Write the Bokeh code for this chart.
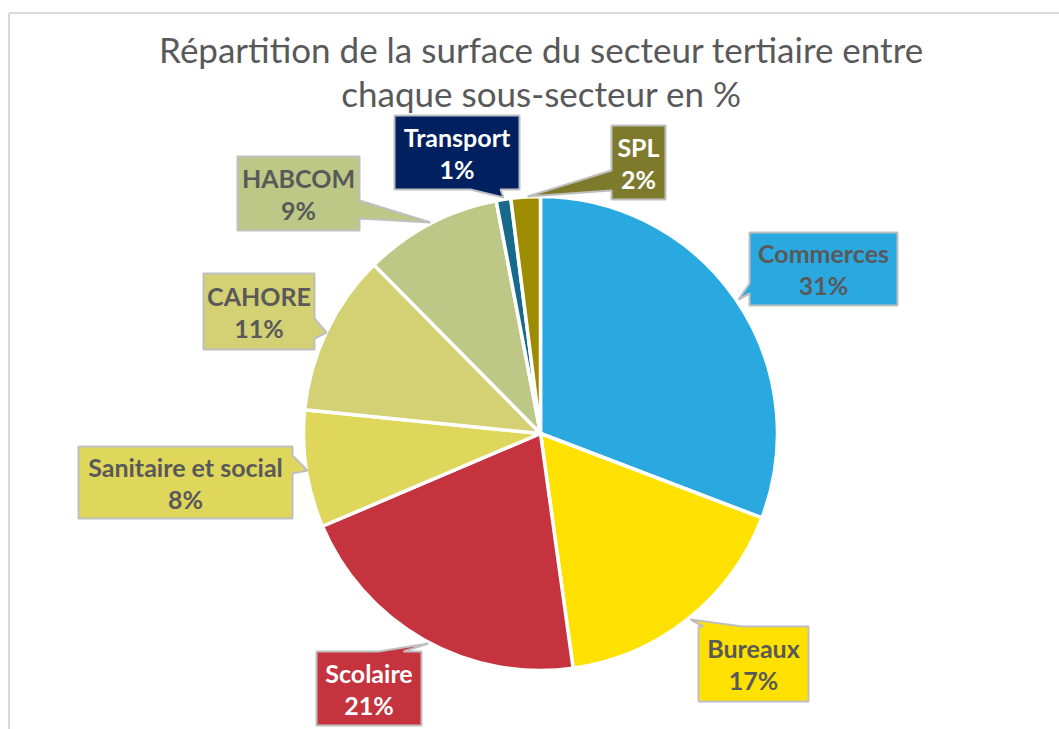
import numpy as np
from bokeh.plotting import figure
from bokeh.models import Range1d
from bokeh.core.properties import value
from bokeh.embed import file_html
from bokeh.resources import INLINE

# ---------------- data ----------------
categories = ["Commerces", "Bureaux", "Scolaire", "Sanitaire et social",
              "CAHORE", "HABCOM", "Transport", "SPL"]
shares = [30.8, 17.0, 20.8, 8.0, 11.0, 9.4, 1.0, 2.0]
title_lines = ["Répartition de la surface du secteur tertiaire entre",
               "chaque sous-secteur en %"]

# ---------------- styles ----------------
slice_colors = ["#29A9E0", "#FFE100", "#C4333E", "#DFD65C",
                "#D3D173", "#BDC887", "#186A8C", "#9D8B00"]
box_colors = ["#29A9E0", "#FFE100", "#C4333E", "#DFD65C",
              "#D3D173", "#BDC887", "#002060", "#7E7A2B"]
text_colors = ["#595959", "#595959", "#FFFFFF", "#595959",
               "#595959", "#595959", "#FFFFFF", "#FFFFFF"]
FONT = "Lato"

W, H = 1059, 729

def X(px):
    return px

def Y(py):
    return H - py

# callout layout in page pixels: box (L, T, R, B), pointer side, base (a, b), tip (x, y)
callouts = [
    dict(box=(749, 232, 897, 305), side="left", base=(283, 293), tip=(738, 299)),
    dict(box=(698, 626, 808, 701), side="top", base=(703, 742), tip=(690, 619)),
    dict(box=(316, 651, 421, 725), side="top", base=(378, 403), tip=(428, 643)),
    dict(box=(78, 446, 292, 518), side="right", base=(455, 473), tip=(307, 470)),
    dict(box=(203, 273, 314, 349), side="right", base=(318, 338), tip=(326, 332)),
    dict(box=(237, 156, 359, 230), side="right", base=(200, 218), tip=(430, 222)),
    dict(box=(394, 115, 519, 189), side="bottom", base=(470, 500), tip=(503, 197)),
    dict(box=(611, 125, 665, 199), side="left", base=(170, 190), tip=(527, 196)),
]

CX, CY, R = 540, 433, 237

p = figure(width=W, height=H, output_backend="svg", toolbar_location=None,
           x_range=Range1d(0, W), y_range=Range1d(0, H),
           x_axis_location=None, y_axis_location=None, min_border=0,
           outline_line_color=None, background_fill_color="white",
           border_fill_color="white")
p.grid.visible = False

# chart frame (left and top edges visible)
p.segment(x0=[X(8.5), X(8.5)], y0=[Y(12.5), Y(12.5)],
          x1=[X(8.5), X(1100)], y1=[Y(800), Y(12.5)],
          line_color="#D9D9D9", line_width=2)

# pie
vals = np.array(shares, dtype=float)
frac = vals / vals.sum()
cum = np.concatenate([[0.0], np.cumsum(frac)])
start = np.pi / 2 - 2 * np.pi * cum[:-1]
end = np.pi / 2 - 2 * np.pi * cum[1:]
p.wedge(x=X(CX), y=Y(CY), radius=R, radius_units="screen",
        start_angle=start, end_angle=end, direction="clock",
        fill_color=slice_colors, line_color="white", line_width=3.5)

# callouts
xs, ys = [], []
for c in callouts:
    L, T, Rr, B = c["box"]
    a, b = c["base"]
    tx, ty = c["tip"]
    if c["side"] == "left":
        pts = [(L, T), (Rr, T), (Rr, B), (L, B), (L, b), (tx, ty), (L, a)]
    elif c["side"] == "right":
        pts = [(L, T), (Rr, T), (Rr, a), (tx, ty), (Rr, b), (Rr, B), (L, B)]
    elif c["side"] == "top":
        pts = [(L, T), (a, T), (tx, ty), (b, T), (Rr, T), (Rr, B), (L, B)]
    else:
        pts = [(L, T), (Rr, T), (Rr, B), (b, B), (tx, ty), (a, B), (L, B)]
    xs.append([X(q[0]) for q in pts])
    ys.append([Y(q[1]) for q in pts])
p.patches(xs=xs, ys=ys, fill_color=box_colors, line_color="#BFBFBF", line_width=2)

names_x, names_y, pct_x, pct_y, pct_txt = [], [], [], [], []
for c, v in zip(callouts, frac):
    L, T, Rr, B = c["box"]
    cx = (L + Rr) / 2
    cy = (T + B) / 2
    names_x.append(X(cx)); names_y.append(Y(cy - 16))
    pct_x.append(X(cx)); pct_y.append(Y(cy + 16))
    pct_txt.append(f"{round(v * 100)}%")

p.text(x=names_x, y=names_y, text=categories, text_color=text_colors,
       text_font=value(FONT), text_font_style="bold", text_font_size="25px",
       text_align="center", text_baseline="middle")
p.text(x=pct_x, y=pct_y, text=pct_txt, text_color=text_colors,
       text_font=value(FONT), text_font_style="bold", text_font_size="25px",
       text_align="center", text_baseline="middle")

# title
p.text(x=[X(541), X(541)], y=[Y(48), Y(92)], text=title_lines,
       text_color="#595959", text_font=value(FONT), text_font_size="35px",
       text_align="center", text_baseline="middle")

open("out.html", "w").write(file_html(p, INLINE))
